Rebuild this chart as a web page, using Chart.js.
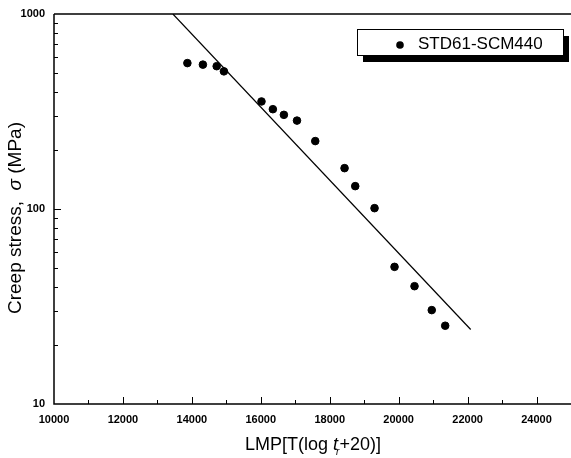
<!DOCTYPE html>
<html>
<head>
<meta charset="utf-8">
<script src="https://cdn.jsdelivr.net/npm/chart.js@4"></script>
<style>
html,body{margin:0;padding:0;background:#fff;}
#wrap{position:relative;width:571px;height:458px;}
</style>
</head>
<body>
<div id="wrap"><canvas id="c" width="571" height="458"></canvas></div>
<script>
// Data
const lmp = [13870, 14320, 14720, 14930, 16020, 16350, 16670, 17050, 17580, 18430, 18740, 19300, 19880, 20460, 20960, 21350];
const stress = [560, 550, 540, 508, 356, 325, 304, 284, 223, 162, 131, 101, 50.5, 40.2, 30.3, 25.2];
const fitLmp = [13450, 22090];
const fitStress = [1000, 24.1];
const seriesName = 'STD61-SCM440';
const xTickLabels = [10000, 12000, 14000, 16000, 18000, 20000, 22000, 24000];
const yTickLabels = [10, 100, 1000];

const pts = lmp.map((x, i) => ({x: x, y: stress[i]}));
const fit = fitLmp.map((x, i) => ({x: x, y: fitStress[i]}));

const FONT = '"Liberation Sans", Arial, sans-serif';

const decor = {
  id: 'decor',
  afterDraw(chart) {
    const ctx = chart.ctx;
    const xs = chart.scales.x, ys = chart.scales.y;
    const a = chart.chartArea;
    ctx.save();
    ctx.strokeStyle = '#000';
    // axis frame: left, bottom, top
    ctx.lineWidth = 1.5;
    ctx.beginPath();
    ctx.moveTo(a.left, a.top); ctx.lineTo(a.right, a.top);
    ctx.moveTo(a.left, a.top); ctx.lineTo(a.left, a.bottom);
    ctx.lineTo(a.right, a.bottom);
    ctx.stroke();
    // inside tick marks
    ctx.lineWidth = 1;
    ctx.beginPath();
    for (let v = 11000; v < 25000; v += 1000) {
      const px = Math.round(xs.getPixelForValue(v)) + 0.5;
      const len = (v % 2000 === 0) ? 7 : 4;
      ctx.moveTo(px, a.bottom); ctx.lineTo(px, a.bottom - len);
    }
    for (let dec = 10; dec < 1000; dec *= 10) {
      for (let m = 1; m <= 9; m++) {
        const v = dec * m;
        if (v === 10) continue;
        const py = Math.round(ys.getPixelForValue(v)) + 0.5;
        const len = (m === 1) ? 7 : 4;
        ctx.moveTo(a.left, py); ctx.lineTo(a.left + len, py);
      }
    }
    ctx.stroke();

    // legend box with shadow
    const bx = 357, by = 29, bw = 206, bh = 26;
    ctx.fillStyle = '#000';
    ctx.fillRect(bx + 6, by + 7, bw, bh);
    ctx.fillStyle = '#fff';
    ctx.fillRect(bx, by, bw, bh);
    ctx.lineWidth = 1;
    ctx.strokeRect(bx + 0.5, by + 0.5, bw, bh);
    ctx.fillStyle = '#000';
    ctx.beginPath();
    ctx.arc(400, 45, 3.8, 0, Math.PI * 2);
    ctx.fill();
    ctx.font = '17px ' + FONT;
    ctx.textBaseline = 'middle';
    ctx.textAlign = 'left';
    ctx.fillText(seriesName, 418, 44);

    // x axis title with italic t and subscript r
    const parts = [
      {t: 'LMP[T(log ', f: '18px ' + FONT, dy: 0},
      {t: 't', f: 'italic 18px ' + FONT, dy: 0},
      {t: 'r', f: 'italic 10px ' + FONT, dy: 5},
      {t: '+20)]', f: '18px ' + FONT, dy: 0}
    ];
    ctx.textBaseline = 'alphabetic';
    let total = 0;
    parts.forEach(p => { ctx.font = p.f; p.w = ctx.measureText(p.t).width; total += p.w; });
    let x0 = 314 - total / 2;
    parts.forEach(p => {
      ctx.font = p.f;
      ctx.fillText(p.t, x0 - (p.t === 'r' ? 2 : 0), 450 + p.dy);
      x0 += p.w - (p.t === 'r' ? 2 : 0);
    });

    // y axis title rotated
    ctx.translate(21, 218);
    ctx.rotate(-Math.PI / 2);
    const yparts = [
      {t: 'Creep stress,  ', f: '19px ' + FONT},
      {t: 'σ', f: 'italic 19px ' + FONT},
      {t: ' (MPa)', f: '19px ' + FONT}
    ];
    let yt = 0;
    yparts.forEach(p => { ctx.font = p.f; p.w = ctx.measureText(p.t).width; yt += p.w; });
    let y0 = -yt / 2;
    yparts.forEach(p => { ctx.font = p.f; ctx.fillText(p.t, y0, 0); y0 += p.w; });
    ctx.restore();
  }
};

new Chart(document.getElementById('c'), {
  type: 'scatter',
  data: {
    datasets: [
      {
        label: seriesName,
        data: pts,
        backgroundColor: '#000',
        borderColor: '#000',
        pointRadius: 3.8,
        pointHoverRadius: 3.8
      },
      {
        label: 'fit',
        type: 'line',
        data: fit,
        borderColor: '#000',
        borderWidth: 1.2,
        pointRadius: 0,
        fill: false,
        showLine: true
      }
    ]
  },
  options: {
    responsive: false,
    animation: false,
    devicePixelRatio: 1,
    layout: {autoPadding: false, padding: {top: 14, right: 0, left: 0, bottom: 0}},
    plugins: {legend: {display: false}, tooltip: {enabled: false}},
    scales: {
      x: {
        type: 'linear',
        min: 10000,
        max: 25000,
        afterFit(s) { s.height = 54; s.paddingLeft = 0; s.paddingRight = 0; },
        afterBuildTicks(s) { s.ticks = xTickLabels.map(v => ({value: v})); },
        grid: {display: false, drawTicks: false},
        border: {display: false},
        ticks: {
          autoSkip: false,
          maxRotation: 0,
          padding: 9,
          color: '#000',
          font: {family: FONT, size: 11, weight: 'bold'},
          callback: v => String(v)
        }
      },
      y: {
        type: 'logarithmic',
        min: 10,
        max: 1000,
        afterFit(s) { s.width = 54; s.paddingTop = 0; s.paddingBottom = 0; },
        afterBuildTicks(s) { s.ticks = yTickLabels.map(v => ({value: v})); },
        grid: {display: false, drawTicks: false},
        border: {display: false},
        ticks: {
          autoSkip: false,
          padding: 9,
          color: '#000',
          font: {family: FONT, size: 11, weight: 'bold'},
          callback: v => String(v)
        }
      }
    }
  },
  plugins: [decor]
});
</script>
</body>
</html>
